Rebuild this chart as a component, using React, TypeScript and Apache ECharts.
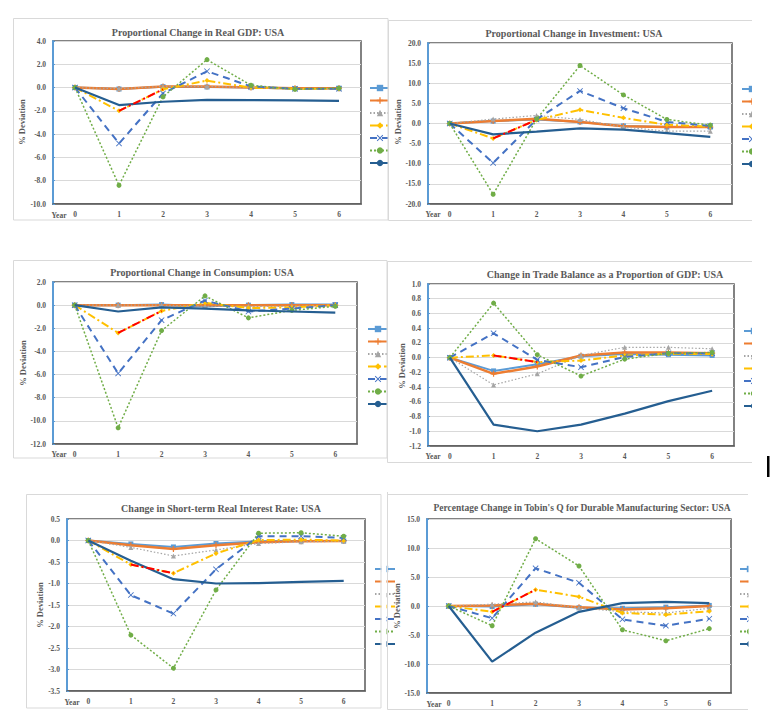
import React, { useEffect, useRef } from 'react';
import * as echarts from 'echarts';

const years = ['0', '1', '2', '3', '4', '5', '6'];
const seriesNames = ['S1', 'S2', 'S3', 'S4', 'S5', 'S6', 'S7'];

const gdpValues = [
  [0, -0.12, 0.08, 0.05, 0.0, -0.08, -0.05],
  [0, -0.12, 0.1, 0.1, 0.0, -0.05, -0.05],
  [0, -0.1, 0.1, 0.1, 0.0, -0.1, -0.1],
  [0, -2.0, -0.15, 0.6, 0.0, -0.1, -0.1],
  [0, -4.8, -0.5, 1.4, 0.1, -0.1, -0.1],
  [0, -8.4, -0.8, 2.4, 0.2, -0.15, -0.05],
  [0, -1.5, -1.22, -1.05, -1.08, -1.1, -1.14],
];
const invValues = [
  [0, 0.6, 1.0, 0.4, -0.6, -0.9, -0.9],
  [0, 0.6, 1.2, 0.4, -0.7, -0.9, -0.9],
  [0, 1.1, 2.0, 1.0, -0.9, -1.9, -1.9],
  [0, -3.7, 0.9, 3.4, 1.4, -0.3, -0.8],
  [0, -9.8, 1.0, 8.1, 3.8, 0.4, -0.6],
  [0, -17.6, 1.1, 14.4, 7.1, 1.0, -0.4],
  [0, -2.7, -2.0, -1.2, -1.5, -2.4, -3.3],
];
const conValues = [
  [0, 0.0, 0.05, -0.1, 0.0, 0.05, 0.05],
  [0, 0.0, 0.0, 0.0, 0.0, 0.0, 0.0],
  [0, 0.0, 0.0, -0.1, -0.1, -0.1, 0.0],
  [0, -2.4, -0.5, 0.2, -0.25, -0.2, 0.0],
  [0, -5.9, -1.3, 0.4, -0.55, -0.3, 0.0],
  [0, -10.6, -2.2, 0.8, -1.1, -0.45, -0.1],
  [0, -0.55, -0.2, -0.3, -0.45, -0.55, -0.65],
];
const tbValues = [
  [0, -0.18, -0.09, 0.02, 0.05, 0.04, 0.03],
  [0, -0.22, -0.12, 0.03, 0.07, 0.07, 0.06],
  [0, -0.37, -0.22, 0.03, 0.14, 0.14, 0.12],
  [0, 0.03, -0.06, -0.04, 0.03, 0.05, 0.05],
  [0, 0.33, -0.03, -0.13, 0.01, 0.06, 0.06],
  [0, 0.74, 0.04, -0.25, -0.02, 0.06, 0.07],
  [0, -0.91, -1.0, -0.91, -0.76, -0.59, -0.45],
];
const irValues = [
  [0, -0.08, -0.15, -0.07, -0.02, -0.01, -0.01],
  [0, -0.11, -0.2, -0.11, -0.04, -0.02, -0.01],
  [0, -0.16, -0.36, -0.22, -0.07, -0.03, -0.02],
  [0, -0.56, -0.76, -0.3, 0.01, 0.02, 0.0],
  [0, -1.27, -1.7, -0.67, 0.1, 0.1, 0.06],
  [0, -2.2, -2.97, -1.15, 0.17, 0.18, 0.1],
  [0, -0.47, -0.9, -1.0, -0.99, -0.96, -0.94],
];
const tqValues = [
  [0, -0.1, 0.3, -0.3, -0.4, -0.2, 0.1],
  [0, 0.1, 0.4, -0.2, -0.6, -0.4, 0.0],
  [0, 0.3, 0.7, -0.3, -1.0, -1.2, -0.4],
  [0, -1.0, 2.8, 1.6, -1.2, -1.5, -0.9],
  [0, -2.1, 6.5, 4.0, -2.3, -3.4, -2.2],
  [0, -3.4, 11.6, 6.9, -4.1, -6.0, -3.9],
  [0, -9.6, -4.6, -1.0, 0.5, 0.7, 0.5],
];

const panelTitles = [
  'Proportional Change in Real GDP: USA',
  'Proportional Change in Investment: USA',
  'Proportional Change in Consumpion: USA',
  'Change in Trade Balance as a Proportion of GDP: USA',
  'Change in Short-term Real Interest Rate: USA',
  "Percentage Change in Tobin's Q for Durable Manufacturing Sector: USA",
];
const yMins = [-10, -20, -12, -1.2, -3.5, -15];
const yMaxs = [4, 20, 2, 1.0, 0.5, 15];
const yIntervals = [2, 5, 2, 0.2, 0.5, 5];
const yAxisName = '% Deviation';
const xAxisName = 'Year';

const panelData = [gdpValues, invValues, conValues, tbValues, irValues, tqValues];

const layouts = [
  { grid: { left: 53, top: 41, width: 308, height: 163 }, titleX: 198, titleY: 32, titleSize: 10, nameX: 22, nameY: 122, yearX: 59, yearY: 215, legendX: 369, legendY: 84 },
  { grid: { left: 428, top: 43, width: 304, height: 161 }, titleX: 574, titleY: 33, titleSize: 10, nameX: 398, nameY: 122, yearX: 433, yearY: 214, legendX: 741, legendY: 85 },
  { grid: { left: 53, top: 282, width: 304, height: 162 }, titleX: 202, titleY: 272, titleSize: 10, nameX: 23, nameY: 363, yearX: 59, yearY: 454, legendX: 367, legendY: 325 },
  { grid: { left: 428, top: 284, width: 306, height: 162 }, titleX: 605, titleY: 274, titleSize: 10, nameX: 402, nameY: 366, yearX: 433, yearY: 456, legendX: 743, legendY: 327 },
  { grid: { left: 67, top: 519, width: 298, height: 172 }, titleX: 221, titleY: 508, titleSize: 10, nameX: 40, nameY: 605, yearX: 72, yearY: 702, legendX: 374, legendY: 565 },
  { grid: { left: 427, top: 519, width: 304, height: 174 }, titleX: 582, titleY: 508, titleSize: 9.5, nameX: 397, nameY: 606, yearX: 434, yearY: 704, legendX: 739, legendY: 565 },
];

const plusPath = 'path://M4,0h2v4h4v2h-4v4h-2v-4h-4v-2h4z';
const xPath = 'path://M0,1L1,0L5,4L9,0L10,1L6,5L10,9L9,10L5,6L1,10L0,9L4,5Z';

const styles: any[] = [
  { color: '#5B9BD5', width: 2, type: 'solid', symbol: 'rect', size: 5 },
  { color: '#ED7D31', width: 2.5, type: 'solid', symbol: plusPath, size: 6 },
  { color: '#A5A5A5', width: 1.2, type: [1.5, 2], symbol: 'triangle', size: 5 },
  { color: '#FFC000', width: 2, type: [8, 3, 2, 3], symbol: 'diamond', size: 5 },
  { color: '#4472C4', width: 2, type: [7, 5], symbol: xPath, size: 6 },
  { color: '#70AD47', width: 1.5, type: [2, 2], symbol: 'circle', size: 5 },
  { color: '#255E91', width: 2.2, type: 'solid', symbol: 'none', size: 0 },
];

const FONT = "'Liberation Serif', 'Times New Roman', serif";
const GREY = '#595959';

function buildOption() {
  const grids: any[] = [];
  const xAxes: any[] = [];
  const yAxes: any[] = [];
  const series: any[] = [];
  const legends: any[] = [];
  const graphics: any[] = [];

  layouts.forEach((L, p) => {
    grids.push({ ...L.grid, show: true, borderColor: GREY, borderWidth: 1.5, backgroundColor: 'transparent' });
    xAxes.push({
      type: 'category', gridIndex: p, data: years, boundaryGap: true,
      axisLine: { onZero: false, lineStyle: { color: GREY, width: 1.5 } },
      axisTick: { show: false },
      axisLabel: { color: GREY, fontFamily: FONT, fontWeight: 'bold', fontSize: 7.5, margin: 6 },
      splitLine: { show: false },
    });
    yAxes.push({
      type: 'value', gridIndex: p, min: yMins[p], max: yMaxs[p], interval: yIntervals[p],
      axisLine: { show: true, lineStyle: { color: '#5B9BD5', width: 2 } },
      axisTick: { show: true, inside: true, length: 2, lineStyle: { color: '#5B9BD5' } },
      axisLabel: { color: GREY, fontFamily: FONT, fontWeight: 'bold', fontSize: 7.5, margin: 7, formatter: (v: number) => v.toFixed(1) },
      splitLine: { show: true, lineStyle: { color: '#D9D9D9', width: 1 } },
    });
    const rows = panelData[p];
    rows.forEach((row, i) => {
      const s = styles[i];
      series.push({
        type: 'line', name: seriesNames[i], xAxisIndex: p, yAxisIndex: p, data: row,
        symbol: s.symbol, symbolSize: s.size, showSymbol: s.symbol !== 'none',
        lineStyle: { color: s.color, width: s.width, type: s.type },
        itemStyle: { color: s.color, borderWidth: 0 },
        silent: true, z: 2 + i * 0.1,
      });
    });
    const yellow = rows[3];
    series.push({
      type: 'line', name: 'seg' + p, xAxisIndex: p, yAxisIndex: p,
      data: yellow.map((v, k) => (k === 1 || k === 2 ? v : null)),
      symbol: 'none', connectNulls: false,
      lineStyle: { color: '#FF0000', width: 2, type: [8, 3, 2, 3] },
      itemStyle: { color: '#FF0000' }, silent: true, z: 3,
    });
    legends.push({
      orient: 'vertical', left: L.legendX, top: L.legendY, itemWidth: 20, itemHeight: 8, itemGap: 5.3,
      padding: 0, data: seriesNames, formatter: () => '', selectedMode: false,
      textStyle: { fontSize: 1 },
    });
    graphics.push({
      type: 'text', x: L.titleX, y: L.titleY, z: 40,
      style: { text: panelTitles[p], align: 'center', verticalAlign: 'middle', fill: GREY, font: `bold ${L.titleSize}px ${FONT}` },
    });
    graphics.push({
      type: 'text', x: L.nameX, y: L.nameY, rotation: Math.PI / 2, z: 40,
      style: { text: yAxisName, align: 'center', verticalAlign: 'middle', fill: GREY, font: `bold 8.5px ${FONT}` },
    });
    graphics.push({
      type: 'text', x: L.yearX, y: L.yearY, z: 40,
      style: { text: xAxisName, align: 'center', verticalAlign: 'middle', fill: GREY, font: `bold 7.5px ${FONT}` },
    });
  });

  const white = { fill: '#ffffff', stroke: 'none' };
  [
    [388, 78, 5, 100], [752, 78, 27, 100], [387, 318, 5, 100],
    [752, 320, 27, 100], [381.5, 558, 5, 104], [748.5, 558, 30, 104],
  ].forEach(([x, y, w, h]) => graphics.push({ type: 'rect', z: 30, shape: { x, y, width: w, height: h }, style: white }));

  const frame = { fill: 'none', stroke: '#D9D9D9', lineWidth: 1 };
  graphics.push({ type: 'rect', z: 31, shape: { x: 13.5, y: 18.5, width: 374.5, height: 201.5 }, style: frame });
  graphics.push({ type: 'polyline', z: 31, shape: { points: [[752, 20.5], [388.5, 20.5], [388.5, 220.5], [752, 220.5]] }, style: frame });
  graphics.push({ type: 'rect', z: 31, shape: { x: 13.5, y: 260.5, width: 373.5, height: 197.5 }, style: frame });
  graphics.push({ type: 'polyline', z: 31, shape: { points: [[752, 261.5], [387.5, 261.5], [387.5, 462.5], [752, 462.5]] }, style: frame });
  graphics.push({ type: 'rect', z: 31, shape: { x: 26.5, y: 494.5, width: 354.5, height: 213.5 }, style: frame });
  graphics.push({ type: 'polyline', z: 31, shape: { points: [[748, 494.5], [387.5, 494.5], [387.5, 709.5], [748, 709.5]] }, style: frame });
  graphics.push({ type: 'line', z: 31, shape: { x1: 387.5, y1: 492, x2: 387.5, y2: 494.5 }, style: { stroke: '#D9D9D9', lineWidth: 1 } });
  graphics.push({ type: 'rect', z: 31, shape: { x: 767, y: 456, width: 2.5, height: 21 }, style: { fill: '#000000' } });

  return {
    animation: false,
    backgroundColor: '#ffffff',
    grid: grids,
    xAxis: xAxes,
    yAxis: yAxes,
    legend: legends,
    series,
    graphic: graphics,
  };
}

export default function App() {
  const ref = useRef<HTMLDivElement>(null);
  useEffect(() => {
    if (!ref.current) return;
    const chart = echarts.init(ref.current, undefined, { renderer: 'svg' });
    chart.setOption(buildOption() as any);
    return () => chart.dispose();
  }, []);
  return (
    <div
      ref={ref}
      style={{ position: 'fixed', left: 0, top: 0, width: 779, height: 728, background: '#ffffff' }}
    />
  );
}
